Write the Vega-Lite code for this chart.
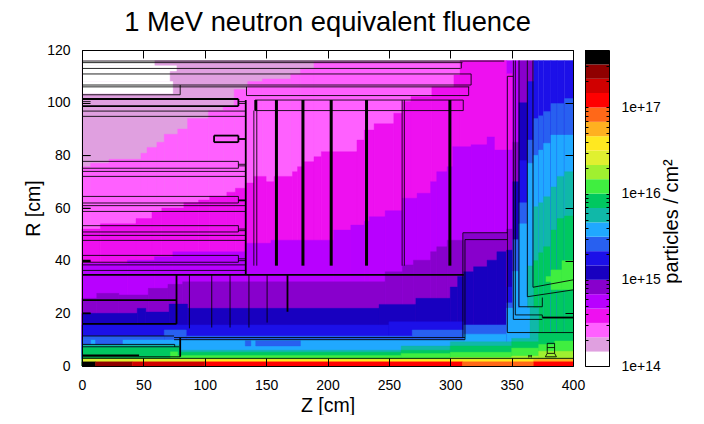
{"$schema":"https://vega.github.io/schema/vega-lite/v6.json","background":"white","padding":{"left":23,"top":8,"right":0,"bottom":0},"spacing":-1,"config":{"view":{"stroke":null},"font":"Liberation Sans","axis":{"grid":false,"domainColor":"black","tickColor":"black","labelColor":"black","titleColor":"black","labelFont":"Liberation Sans","titleFont":"Liberation Sans","labelFontSize":14,"titleFontSize":19.5,"titleFontWeight":"normal","labelFlush":false,"labelOverlap":false}},
"datasets":{
"cells":[
{"z":0,"z2":346,"r":116,"r0":0,"level":1},
{"z":0,"z2":59,"r":116,"r0":114,"level":0},{"z":0,"z2":77,"r":114,"r0":112,"level":0},{"z":0,"z2":71.5,"r":112,"r0":108,"level":0},{"z":0,"z2":74,"r":108,"r0":103.5,"level":0},
{"z":0,"z2":7,"r":75.7,"r0":0,"level":2},{"z":7,"z2":22,"r":77,"r0":0,"level":2},{"z":22,"z2":48,"r":78.5,"r0":0,"level":2},{"z":48,"z2":53,"r":80.8,"r0":0,"level":2},{"z":53,"z2":61,"r":83,"r0":0,"level":2},{"z":61,"z2":67,"r":85,"r0":0,"level":2},{"z":67,"z2":78,"r":88,"r0":0,"level":2},{"z":78,"z2":86,"r":90,"r0":0,"level":2},{"z":86,"z2":103,"r":94,"r0":0,"level":2},{"z":103,"z2":115,"r":97,"r0":0,"level":2},{"z":115,"z2":124,"r":98.5,"r0":0,"level":2},{"z":124,"z2":135,"r":105,"r0":0,"level":2},{"z":135,"z2":147,"r":108,"r0":0,"level":2},{"z":147,"z2":170,"r":109,"r0":0,"level":2},{"z":170,"z2":178,"r":111,"r0":0,"level":2},{"z":178,"z2":189,"r":113,"r0":0,"level":2},{"z":189,"z2":346,"r":115.5,"r0":0,"level":2},
{"z":0,"z2":15,"r":52,"r0":0,"level":3},{"z":15,"z2":44,"r":54,"r0":0,"level":3},{"z":44,"z2":57,"r":56,"r0":0,"level":3},{"z":57,"z2":65,"r":58.5,"r0":0,"level":3},{"z":65,"z2":83,"r":60,"r0":0,"level":3},{"z":83,"z2":95,"r":62,"r0":0,"level":3},{"z":95,"z2":104,"r":63,"r0":0,"level":3},{"z":104,"z2":118,"r":64.5,"r0":0,"level":3},{"z":118,"z2":125,"r":66,"r0":0,"level":3},{"z":125,"z2":133,"r":67.5,"r0":0,"level":3},{"z":133,"z2":140,"r":69.5,"r0":0,"level":3},{"z":140,"z2":150,"r":72,"r0":0,"level":3},{"z":150,"z2":156.5,"r":70,"r0":0,"level":3},{"z":156.5,"z2":171.5,"r":72,"r0":0,"level":3},{"z":171.5,"z2":175.6,"r":73.8,"r0":0,"level":3},{"z":175.6,"z2":181,"r":75.7,"r0":0,"level":3},{"z":181,"z2":189,"r":77.6,"r0":0,"level":3},{"z":189,"z2":195,"r":79.5,"r0":0,"level":3},{"z":195,"z2":224,"r":81.4,"r0":0,"level":3},{"z":224,"z2":230,"r":85.8,"r0":0,"level":3},{"z":230,"z2":238,"r":89.6,"r0":0,"level":3},{"z":238,"z2":254,"r":92,"r0":0,"level":3},{"z":254,"z2":261,"r":96,"r0":0,"level":3},{"z":261,"z2":268,"r":100.4,"r0":0,"level":3},{"z":268,"z2":285,"r":102.3,"r0":0,"level":3},{"z":285,"z2":303,"r":106,"r0":0,"level":3},{"z":303,"z2":308,"r":110.5,"r0":0,"level":3},{"z":308,"z2":346,"r":116,"r0":0,"level":3},
{"z":0,"z2":37,"r":39,"r0":0,"level":4},{"z":37,"z2":59,"r":40.2,"r0":0,"level":4},{"z":59,"z2":74,"r":41.5,"r0":0,"level":4},{"z":74,"z2":133,"r":43.4,"r0":0,"level":4},{"z":133,"z2":154,"r":46.6,"r0":0,"level":4},{"z":154,"z2":205,"r":47.8,"r0":0,"level":4},{"z":205,"z2":219,"r":51.6,"r0":0,"level":4},{"z":219,"z2":230,"r":53.5,"r0":0,"level":4},{"z":230,"z2":234,"r":55,"r0":0,"level":4},{"z":234,"z2":247,"r":56.7,"r0":0,"level":4},{"z":247,"z2":261,"r":59,"r0":0,"level":4},{"z":261,"z2":273,"r":63.7,"r0":0,"level":4},{"z":273,"z2":284,"r":65.6,"r0":0,"level":4},{"z":284,"z2":289,"r":70,"r0":0,"level":4},{"z":289,"z2":297.5,"r":73.8,"r0":0,"level":4},{"z":297.5,"z2":302,"r":75.7,"r0":0,"level":4},{"z":302,"z2":317,"r":83.3,"r0":0,"level":4},{"z":317,"z2":330,"r":84,"r0":0,"level":4},{"z":330,"z2":336,"r":87,"r0":0,"level":4},{"z":336,"z2":346,"r":82,"r0":0,"level":4},
{"z":0,"z2":12,"r":25.7,"r0":0,"level":5},{"z":12,"z2":30,"r":27.6,"r0":0,"level":5},{"z":30,"z2":54,"r":27,"r0":0,"level":5},{"z":54,"z2":70,"r":29.5,"r0":0,"level":5},{"z":70,"z2":82,"r":31,"r0":0,"level":5},{"z":82,"z2":247,"r":32,"r0":0,"level":5},{"z":247,"z2":261,"r":35.8,"r0":0,"level":5},{"z":261,"z2":270,"r":38.4,"r0":0,"level":5},{"z":270,"z2":284,"r":40.2,"r0":0,"level":5},{"z":284,"z2":289,"r":43.4,"r0":0,"level":5},{"z":289,"z2":297.5,"r":45.3,"r0":0,"level":5},{"z":297.5,"z2":311,"r":47.8,"r0":0,"level":5},{"z":311,"z2":346,"r":50.4,"r0":0,"level":5},
{"z":0,"z2":45,"r":20,"r0":0,"level":6},{"z":45,"z2":52,"r":21.9,"r0":0,"level":6},{"z":52,"z2":71,"r":20.5,"r0":0,"level":6},{"z":71,"z2":86,"r":23.5,"r0":0,"level":6},{"z":86,"z2":242,"r":21.9,"r0":0,"level":6},{"z":242,"z2":272,"r":23.4,"r0":0,"level":6},{"z":272,"z2":300,"r":25.7,"r0":0,"level":6},{"z":300,"z2":306,"r":30,"r0":0,"level":6},{"z":306,"z2":311,"r":34,"r0":0,"level":6},{"z":311,"z2":319,"r":35.8,"r0":0,"level":6},{"z":319,"z2":330,"r":37.7,"r0":0,"level":6},{"z":330,"z2":338,"r":40.2,"r0":0,"level":6},{"z":338,"z2":346,"r":43.4,"r0":0,"level":6},
{"z":0,"z2":250,"r":15.6,"r0":0,"level":7},{"z":250,"z2":311,"r":16.8,"r0":0,"level":7},{"z":311,"z2":346,"r":15.6,"r0":0,"level":7},
{"z":0,"z2":67,"r":11.4,"r0":0,"level":8},{"z":67,"z2":85,"r":13.7,"r0":0,"level":8},{"z":85,"z2":269,"r":11.4,"r0":0,"level":8},{"z":269,"z2":311,"r":13.7,"r0":0,"level":8},{"z":311,"z2":346,"r":15.6,"r0":0,"level":8},
{"z":0,"z2":311,"r":9.9,"r0":0,"level":9},{"z":311,"z2":346,"r":12.1,"r0":0,"level":9},
{"z":0,"z2":7,"r":9.9,"r0":8.2,"level":8},{"z":11,"z2":33,"r":10,"r0":8.2,"level":8},{"z":133,"z2":137.6,"r":9.6,"r0":7.6,"level":8},{"z":141.5,"z2":178,"r":9.6,"r0":7.6,"level":8},
{"z":346,"z2":351,"r":116,"r0":0,"level":4},{"z":346,"z2":351,"r":111,"r0":0,"level":3},{"z":346,"z2":351,"r":82,"r0":0,"level":4},{"z":346,"z2":351,"r":52,"r0":0,"level":5},{"z":346,"z2":351,"r":44,"r0":0,"level":6},{"z":346,"z2":351,"r":30,"r0":0,"level":7},{"z":346,"z2":351,"r":24,"r0":0,"level":8},{"z":346,"z2":351,"r":13,"r0":0,"level":9},
{"z":351,"z2":356,"r":116,"r0":0,"level":4},{"z":351,"z2":356,"r":85,"r0":0,"level":5},{"z":351,"z2":356,"r":70,"r0":0,"level":6},{"z":351,"z2":356,"r":48,"r0":0,"level":8},{"z":351,"z2":356,"r":36,"r0":0,"level":9},
{"z":356,"z2":363,"r":116,"r0":0,"level":5},{"z":356,"z2":363,"r":100,"r0":0,"level":6},{"z":356,"z2":363,"r":78,"r0":0,"level":7},{"z":356,"z2":363,"r":62,"r0":0,"level":8},{"z":356,"z2":363,"r":54,"r0":0,"level":9},
{"z":363,"z2":368,"r":116,"r0":0,"level":5},{"z":363,"z2":368,"r":108,"r0":0,"level":7},{"z":363,"z2":368,"r":85.8,"r0":0,"level":8},{"z":363,"z2":368,"r":77,"r0":0,"level":9},{"z":363,"z2":368,"r":38,"r0":0,"level":10},
{"z":368,"z2":372,"r":116,"r0":0,"level":7},{"z":368,"z2":372,"r":94,"r0":0,"level":8},{"z":368,"z2":372,"r":80,"r0":0,"level":9},{"z":368,"z2":372,"r":60.5,"r0":0,"level":10},{"z":368,"z2":372,"r":40,"r0":0,"level":11},
{"z":372,"z2":376,"r":116,"r0":0,"level":7},{"z":372,"z2":376,"r":95,"r0":0,"level":8},{"z":372,"z2":376,"r":82,"r0":0,"level":9},{"z":372,"z2":376,"r":62,"r0":0,"level":10},{"z":372,"z2":376,"r":43,"r0":0,"level":11},
{"z":376,"z2":382,"r":116,"r0":0,"level":7},{"z":376,"z2":382,"r":96.6,"r0":0,"level":8},{"z":376,"z2":382,"r":84.6,"r0":0,"level":9},{"z":376,"z2":382,"r":64.3,"r0":0,"level":10},{"z":376,"z2":382,"r":45.3,"r0":0,"level":11},
{"z":382,"z2":387,"r":116,"r0":0,"level":7},{"z":382,"z2":387,"r":99.7,"r0":0,"level":8},{"z":382,"z2":387,"r":87.7,"r0":0,"level":9},{"z":382,"z2":387,"r":68,"r0":0,"level":10},{"z":382,"z2":387,"r":51.6,"r0":0,"level":11},
{"z":387,"z2":393,"r":116,"r0":0,"level":7},{"z":387,"z2":393,"r":99.7,"r0":0,"level":8},{"z":387,"z2":393,"r":87.7,"r0":0,"level":9},{"z":387,"z2":393,"r":72,"r0":0,"level":10},{"z":387,"z2":393,"r":56,"r0":0,"level":11},
{"z":393,"z2":400,"r":116,"r0":0,"level":7},{"z":393,"z2":400,"r":101.6,"r0":0,"level":8},{"z":393,"z2":400,"r":87.7,"r0":0,"level":9},{"z":393,"z2":400,"r":73.8,"r0":0,"level":10},{"z":393,"z2":400,"r":57,"r0":0,"level":11},
{"z":378,"z2":382,"r":34,"r0":32,"level":12},{"z":382,"z2":391,"r":36.5,"r0":29,"level":12},{"z":391,"z2":400,"r":40,"r0":29,"level":12},
{"z":346,"z2":365,"r":22,"r0":0,"level":9},{"z":365,"z2":372,"r":22,"r0":0,"level":10},
{"z":0,"z2":80,"r":8,"r0":0,"level":10},{"z":80,"z2":260,"r":6,"r0":0,"level":10},{"z":260,"z2":300,"r":7.6,"r0":0,"level":10},{"z":300,"z2":350,"r":9.2,"r0":0,"level":10},{"z":350,"z2":372,"r":10.5,"r0":0,"level":10},
{"z":0,"z2":80,"r":7.1,"r0":0,"level":11},{"z":80,"z2":260,"r":5.2,"r0":0,"level":11},{"z":260,"z2":300,"r":6,"r0":0,"level":11},{"z":300,"z2":350,"r":7.6,"r0":0,"level":11},{"z":350,"z2":372,"r":9.2,"r0":0,"level":11},{"z":372,"z2":400,"r":12.4,"r0":0,"level":11},
{"z":0,"z2":72,"r":3,"r0":0,"level":12},{"z":72,"z2":78,"r":5.4,"r0":0,"level":12},{"z":78,"z2":260,"r":4,"r0":0,"level":12},{"z":260,"z2":300,"r":4.7,"r0":0,"level":12},{"z":300,"z2":350,"r":5.2,"r0":0,"level":12},{"z":350,"z2":372,"r":6.8,"r0":0,"level":12},{"z":372,"z2":385,"r":8.2,"r0":0,"level":12},{"z":385,"z2":400,"r":9.5,"r0":0,"level":12},
{"z":0,"z2":300,"r":2.7,"r0":0,"level":13},{"z":300,"z2":350,"r":3.2,"r0":0,"level":13},{"z":350,"z2":372,"r":3.8,"r0":0,"level":13},{"z":372,"z2":400,"r":5.6,"r0":0,"level":13},
{"z":0,"z2":100,"r":2.6,"r0":0,"level":14},{"z":100,"z2":368,"r":2.5,"r0":0,"level":15},{"z":368,"z2":400,"r":2.6,"r0":0,"level":16},
{"z":0,"z2":11,"r":1.6,"r0":0,"level":21},{"z":11,"z2":41,"r":1.6,"r0":0,"level":20},{"z":41,"z2":100,"r":1.6,"r0":0,"level":19},{"z":100,"z2":310,"r":1.6,"r0":0,"level":18},{"z":310,"z2":368,"r":1.6,"r0":0,"level":17},{"z":368,"z2":400,"r":1.6,"r0":0,"level":18}
],
"bar":[{"lo":1e14,"hi":1.47e14,"level":0},{"lo":1.47e14,"hi":2.15e14,"level":1},{"lo":2.15e14,"hi":3.16e14,"level":2},{"lo":3.16e14,"hi":4.64e14,"level":3},{"lo":4.64e14,"hi":6.81e14,"level":4},{"lo":6.81e14,"hi":1e15,"level":5},{"lo":1e15,"hi":1.47e15,"level":6},{"lo":1.47e15,"hi":2.15e15,"level":7},{"lo":2.15e15,"hi":3.16e15,"level":8},{"lo":3.16e15,"hi":4.64e15,"level":9},{"lo":4.64e15,"hi":6.81e15,"level":10},{"lo":6.81e15,"hi":1e16,"level":11},{"lo":1e16,"hi":1.47e16,"level":12},{"lo":1.47e16,"hi":2.15e16,"level":13},{"lo":2.15e16,"hi":3.16e16,"level":14},{"lo":3.16e16,"hi":4.64e16,"level":15},{"lo":4.64e16,"hi":6.81e16,"level":16},{"lo":6.81e16,"hi":1e17,"level":17},{"lo":1e17,"hi":1.47e17,"level":18},{"lo":1.47e17,"hi":2.15e17,"level":19},{"lo":2.15e17,"hi":3.16e17,"level":20},{"lo":3.16e17,"hi":4.64e17,"level":21}],
"thin":[
{"z":0,"z2":344,"r":115.8,"r2":115.8},{"z":0,"z2":310,"r":115.2,"r2":115.2},{"z":0,"z2":308.4,"r":113,"r2":113},{"z":309,"z2":309,"r":115.2,"r2":113},{"z":0,"z2":317,"r":110.9,"r2":110.9},{"z":0,"z2":317,"r":106.7,"r2":106.7},{"z":317,"z2":317,"r":110.9,"r2":106.7},{"z":0,"z2":315.5,"r":106,"r2":106},{"z":0,"z2":80,"r":103,"r2":103},{"z":80,"z2":80,"r":106.7,"r2":103},{"z":134,"z2":315,"r":102.7,"r2":102.7},{"z":134,"z2":134,"r":106,"r2":102.7},{"z":315,"z2":315,"r":106,"r2":102.7},
{"z":141,"z2":310.6,"r":101,"r2":101},{"z":140.8,"z2":310.6,"r":97,"r2":97},{"z":310.6,"z2":310.6,"r":101,"r2":97},{"z":140,"z2":140,"r":97,"r2":38.1},{"z":142.4,"z2":142.4,"r":97,"r2":38.1},{"z":260.8,"z2":260.8,"r":101,"r2":38.1},{"z":262.6,"z2":262.6,"r":101,"r2":38.1},
{"z":0,"z2":7,"r":100.4,"r2":100.4},{"z":127.4,"z2":133.4,"r":100.4,"r2":100.4},{"z":127.4,"z2":133.4,"r":99.7,"r2":99.7},{"z":0,"z2":133.4,"r":96.8,"r2":96.8},{"z":0,"z2":133.4,"r":94.8,"r2":94.8},{"z":0,"z2":7,"r":79.9,"r2":79.9},
{"z":0,"z2":127.4,"r":77.7,"r2":77.7},{"z":0,"z2":127.4,"r":75.1,"r2":75.1},{"z":127.4,"z2":127.4,"r":77.7,"r2":75.1},{"z":127.4,"z2":133.4,"r":76.6,"r2":76.6},{"z":127.4,"z2":133.4,"r":76,"r2":76},{"z":0,"z2":133.4,"r":73.9,"r2":73.9},{"z":0,"z2":133.4,"r":72,"r2":72},
{"z":0,"z2":127.4,"r":64.4,"r2":64.4},{"z":0,"z2":127.4,"r":61.9,"r2":61.9},{"z":127.4,"z2":127.4,"r":64.4,"r2":61.9},{"z":0,"z2":133.4,"r":60.9,"r2":60.9},{"z":0,"z2":7,"r":59.9,"r2":59.9},{"z":0,"z2":133.4,"r":58.7,"r2":58.7},
{"z":0,"z2":127.4,"r":53.3,"r2":53.3},{"z":0,"z2":127.4,"r":50.9,"r2":50.9},{"z":127.4,"z2":127.4,"r":53.3,"r2":50.9},{"z":127.4,"z2":133.4,"r":52,"r2":52},{"z":127.4,"z2":133.4,"r":51.4,"r2":51.4},{"z":0,"z2":133.4,"r":49.6,"r2":49.6},{"z":0,"z2":133.4,"r":47.7,"r2":47.7},
{"z":0,"z2":127.4,"r":42,"r2":42},{"z":0,"z2":127.4,"r":39.4,"r2":39.4},{"z":127.4,"z2":127.4,"r":42,"r2":39.4},{"z":127.4,"z2":133.4,"r":40.7,"r2":40.7},{"z":127.4,"z2":133.4,"r":40,"r2":40},{"z":0,"z2":133.4,"r":38.4,"r2":38.4},{"z":0,"z2":133.4,"r":36.3,"r2":36.3},
{"z":87.5,"z2":87.5,"r":34.6,"r2":14.3},{"z":105.7,"z2":105.7,"r":34.6,"r2":14.6},{"z":120.6,"z2":120.6,"r":34.6,"r2":14.6},{"z":136,"z2":136,"r":34.6,"r2":14.6},{"z":150.8,"z2":150.8,"r":34.6,"r2":16.5},
{"z":0,"z2":75,"r":11.4,"r2":11.4},{"z":0,"z2":75.5,"r":8.2,"r2":8.2},{"z":0,"z2":79,"r":7.3,"r2":7.3},{"z":75.5,"z2":75.5,"r":8.2,"r2":7.3},{"z":75,"z2":80,"r":10.8,"r2":10.8},{"z":80,"z2":312,"r":10.8,"r2":10.8},{"z":75,"z2":312,"r":10,"r2":10},{"z":0,"z2":80,"r":3.5,"r2":3.5},{"z":0,"z2":400,"r":2.9,"r2":2.9},
{"z":312,"z2":312,"r":48,"r2":10},{"z":310.3,"z2":310.3,"r":50.6,"r2":10.8},{"z":310.3,"z2":346.5,"r":50.6,"r2":50.6},{"z":312,"z2":346.5,"r":48,"r2":48},
{"z":346.5,"z2":346.5,"r":110,"r2":12.7},{"z":346.5,"z2":351.4,"r":110,"r2":110},{"z":351.4,"z2":351.4,"r":116,"r2":17.7},{"z":353,"z2":353,"r":116,"r2":19.4},{"z":356,"z2":356,"r":116,"r2":22.5},{"z":362.8,"z2":362.8,"r":116,"r2":26.3},{"z":367.4,"z2":367.4,"r":116,"r2":29.9},
{"z":346.5,"z2":400,"r":12.7,"r2":12.7},{"z":351.4,"z2":375,"r":17.7,"r2":17.7},{"z":353,"z2":375,"r":19.4,"r2":19.4},{"z":375,"z2":375,"r":19.4,"r2":18.4},{"z":356,"z2":375,"r":22.5,"r2":22.5},{"z":375,"z2":375,"r":26,"r2":22.5},
{"z":362.8,"z2":400,"r":26.3,"r2":28.9},{"z":367.4,"z2":400,"r":29.9,"r2":32.7},
{"z":379,"z2":385,"r":8.6,"r2":8.6},{"z":379,"z2":379,"r":8.6,"r2":4.8},{"z":385,"z2":385,"r":8.6,"r2":4.8},{"z":379,"z2":385,"r":4.8,"r2":4.8},{"z":379,"z2":385,"r":7,"r2":7},{"z":379,"z2":377.5,"r":4.8,"r2":3.5},{"z":385,"z2":386.5,"r":4.8,"r2":3.5},{"z":377.5,"z2":386.5,"r":3.5,"r2":3.5},{"z":364,"z2":366,"r":3.8,"r2":3.8},{"z":364,"z2":364,"r":4.2,"r2":3.2},{"z":366,"z2":366,"r":4.2,"r2":3.2}
],
"heavy":[
{"z":0,"z2":127.4,"r":101.4,"r2":101.4},{"z":0,"z2":127.4,"r":98.7,"r2":98.7},{"z":127.4,"z2":127.4,"r":101.4,"r2":98.7},{"z":107.6,"z2":127.4,"r":87.5,"r2":87.5},{"z":107.6,"z2":127.4,"r":85,"r2":85},{"z":107.6,"z2":107.6,"r":87.5,"r2":85},{"z":127.4,"z2":127.4,"r":87.5,"r2":85},{"z":127.4,"z2":133.4,"r":86.2,"r2":86.2},{"z":127.4,"z2":133.4,"r":62.9,"r2":62.9},{"z":133.4,"z2":133.4,"r":101,"r2":34.6},{"z":0,"z2":311,"r":34.6,"r2":34.6},{"z":77,"z2":77,"r":34.6,"r2":16},{"z":0,"z2":77,"r":16,"r2":16},{"z":0,"z2":77,"r":25,"r2":25},{"z":0,"z2":7,"r":20,"r2":20},{"z":0,"z2":7,"r":40,"r2":40},{"z":0,"z2":46.5,"r":4,"r2":4},{"z":80,"z2":80,"r":10.8,"r2":3.5},{"z":375,"z2":400,"r":18.4,"r2":18.4},{"z":167.4,"z2":167.4,"r":34.6,"r2":20.6}
],
"discs":[
{"z":141.6,"z2":141.6,"r":101,"r2":97},{"z":158.4,"z2":158.4,"r":101,"r2":38.1},{"z":180,"z2":180,"r":101,"r2":38.1},{"z":203,"z2":203,"r":101,"r2":38.1},{"z":231.8,"z2":231.8,"r":101,"r2":38.1},{"z":299.7,"z2":299.7,"r":101,"r2":38.1}
]},
"hconcat":[
{"width":491,"height":316,"title":{"text":"1 MeV neutron equivalent fluence","fontSize":27.3,"font":"Liberation Sans","fontWeight":"normal","color":"black","anchor":"middle","offset":7},
"resolve":{"axis":{"x":"independent","y":"independent"}},
"layer":[
{"data":{"name":"cells"},"mark":{"type":"rect","strokeWidth":0.4},"encoding":{
"x":{"field":"z","type":"quantitative","scale":{"domain":[0,400],"nice":false},"axis":{"title":"Z [cm]","values":[0,50,100,150,200,250,300,350,400],"tickSize":-8,"labelPadding":20,"titlePadding":4,"zindex":1}},
"x2":{"field":"z2"},
"y":{"field":"r","type":"quantitative","scale":{"domain":[0,120],"nice":false},"axis":{"title":"R [cm]","values":[0,20,40,60,80,100,120],"tickSize":-8,"labelPadding":20,"titlePadding":3,"zindex":1}},
"y2":{"field":"r0"},
"color":{"field":"level","type":"ordinal","legend":null,"scale":{"domain":[0,1,2,3,4,5,6,7,8,9,10,11,12,13,14,15,16,17,18,19,20,21],"range":["#ffffff","#e0a0e0","#ff60ff","#ee10f0","#b800ff","#8800cc","#1800c0","#1c10e8","#2860f0","#20a8ff","#10b8a8","#00c860","#40ee40","#a0f030","#e0f030","#ffe820","#ffb020","#ff6818","#ff0000","#d00000","#900000","#000000"]}},
"stroke":{"field":"level","type":"ordinal","legend":null,"scale":{"domain":[0,1,2,3,4,5,6,7,8,9,10,11,12,13,14,15,16,17,18,19,20,21],"range":["#ffffff","#e0a0e0","#ff60ff","#ee10f0","#b800ff","#8800cc","#1800c0","#1c10e8","#2860f0","#20a8ff","#10b8a8","#00c860","#40ee40","#a0f030","#e0f030","#ffe820","#ffb020","#ff6818","#ff0000","#d00000","#900000","#000000"]}}}},
{"data":{"name":"thin"},"mark":{"type":"rule","color":"black","strokeWidth":1,"opacity":0.85},"encoding":{
"x":{"field":"z","type":"quantitative","axis":{"orient":"top","title":null,"labels":false,"values":[0,50,100,150,200,250,300,350,400],"tickSize":-8,"zindex":1}},
"x2":{"field":"z2"},
"y":{"field":"r","type":"quantitative","axis":{"orient":"right","title":null,"labels":false,"values":[0,20,40,60,80,100,120],"tickSize":-8,"zindex":1}},
"y2":{"field":"r2"}}},
{"data":{"name":"heavy"},"mark":{"type":"rule","color":"black","strokeWidth":1.8},"encoding":{"x":{"field":"z","type":"quantitative","axis":null},"x2":{"field":"z2"},"y":{"field":"r","type":"quantitative","axis":null},"y2":{"field":"r2"}}},
{"data":{"name":"discs"},"mark":{"type":"rule","color":"black","strokeWidth":3},"encoding":{"x":{"field":"z","type":"quantitative","axis":null},"x2":{"field":"z2"},"y":{"field":"r","type":"quantitative","axis":null},"y2":{"field":"r2"}}}
]},
{"width":24,"height":316,"resolve":{"axis":{"x":"independent","y":"independent"}},
"layer":[
{"data":{"name":"bar"},"mark":{"type":"rect"},"encoding":{
"x":{"datum":0,"type":"quantitative","scale":{"domain":[0,1],"nice":false},"axis":{"orient":"bottom","values":[],"title":null,"labels":false,"ticks":false,"zindex":1}},"x2":{"datum":1},
"y":{"field":"lo","type":"quantitative","scale":{"type":"log","domain":[1e14,4.64e17],"nice":false},"axis":{"orient":"right","title":"particles / cm²","titleAngle":270,"titleFontSize":20,"titlePadding":21,"titleY":171,"tickSize":-3,"labelPadding":15,"zindex":1,"values":[1e14,2e14,3e14,4e14,5e14,6e14,7e14,8e14,9e14,1e15,2e15,3e15,4e15,5e15,6e15,7e15,8e15,9e15,1e16,2e16,3e16,4e16,5e16,6e16,7e16,8e16,9e16,1e17,2e17,3e17,4e17],"labelExpr":"datum.value==1e14?'1e+14':datum.value==1e15?'1e+15':datum.value==1e16?'1e+16':datum.value==1e17?'1e+17':''"}},
"y2":{"field":"hi"},
"color":{"field":"level","type":"ordinal","legend":null,"scale":{"domain":[0,1,2,3,4,5,6,7,8,9,10,11,12,13,14,15,16,17,18,19,20,21],"range":["#ffffff","#e0a0e0","#ff60ff","#ee10f0","#b800ff","#8800cc","#1800c0","#1c10e8","#2860f0","#20a8ff","#10b8a8","#00c860","#40ee40","#a0f030","#e0f030","#ffe820","#ffb020","#ff6818","#ff0000","#d00000","#900000","#000000"]}}}},
{"data":{"name":"bar"},"mark":{"type":"rule","opacity":0},"encoding":{
"x":{"datum":0,"type":"quantitative","axis":{"orient":"top","values":[],"title":null,"labels":false,"ticks":false,"zindex":1}},
"y":{"field":"lo","type":"quantitative","axis":{"orient":"left","title":null,"labels":false,"tickSize":-3,"zindex":1,"values":[1e14,2e14,3e14,4e14,5e14,6e14,7e14,8e14,9e14,1e15,2e15,3e15,4e15,5e15,6e15,7e15,8e15,9e15,1e16,2e16,3e16,4e16,5e16,6e16,7e16,8e16,9e16,1e17,2e17,3e17,4e17]}}}}
]}
]}
